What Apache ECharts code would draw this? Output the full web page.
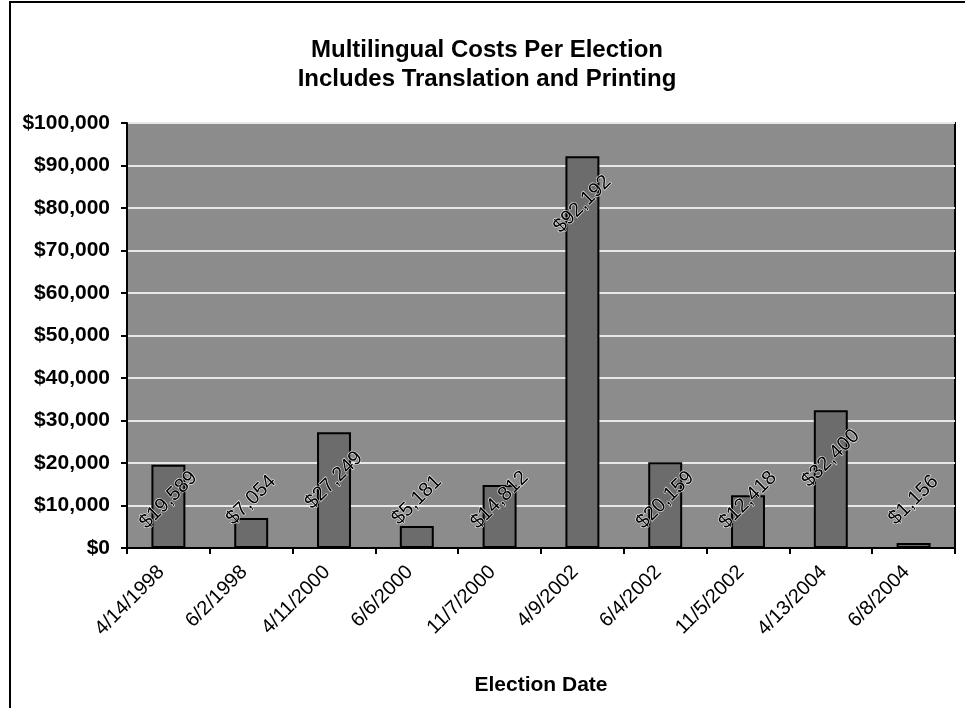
<!DOCTYPE html>
<html>
<head>
<meta charset="utf-8">
<script src="https://cdn.jsdelivr.net/npm/echarts@6/dist/echarts.min.js"></script>
<style>
html,body{margin:0;padding:0;background:#fff;}
#chart{width:965px;height:708px;}
</style>
</head>
<body>
<div id="chart"></div>
<script>
// ---- data ----
var categories = ['4/14/1998','6/2/1998','4/11/2000','6/6/2000','11/7/2000','4/9/2002','6/4/2002','11/5/2002','4/13/2004','6/8/2004'];
var costs = [19589, 7054, 27249, 5181, 14812, 92192, 20159, 12418, 32400, 1156];
var yTicks = [0, 10000, 20000, 30000, 40000, 50000, 60000, 70000, 80000, 90000, 100000];
var titleLines = ['Multilingual Costs Per Election', 'Includes Translation and Printing'];
var xAxisName = 'Election Date';

var FONT = '"Liberation Sans", Arial, sans-serif';
function money(v){ return '$' + v.toLocaleString('en-US'); }

// labels sit near the bar end for tall bars, near the base for short ones
var LABEL_SWITCH = 22600;
var barData = costs.map(function(v){
  var tall = v > LABEL_SWITCH;
  return {
    value: v,
    label: { position: tall ? 'insideTop' : 'insideBottom', distance: 48 }
  };
});

var chart = echarts.init(document.getElementById('chart'), null, {renderer:'canvas'});
chart.setOption({
  animation: false,
  backgroundColor: '#ffffff',
  textStyle: { fontFamily: FONT },
  title: {
    text: titleLines.join('\n'),
    left: 482, textAlign: 'center', top: 31,
    textStyle: { fontFamily: FONT, fontSize: 24, fontWeight: 'bold', color: '#000', lineHeight: 29 }
  },
  graphic: [{
    type: 'rect', silent: true, z: -1,
    shape: { x: 10, y: 2, width: 1000, height: 800 },
    style: { fill: null, stroke: '#000', lineWidth: 2 }
  }],
  grid: {
    left: 127, right: 10, top: 123, bottom: 160,
    show: true, backgroundColor: '#8c8c8c', borderColor: '#000', borderWidth: 2
  },
  xAxis: {
    type: 'category',
    data: categories,
    name: xAxisName, nameLocation: 'middle', nameGap: 127,
    nameTextStyle: { fontFamily: FONT, fontSize: 21, fontWeight: 'bold', color: '#000' },
    axisLine: { lineStyle: { color: '#000', width: 2 } },
    axisTick: { show: true, alignWithLabel: false, length: 6, lineStyle: { color: '#000', width: 2 } },
    axisLabel: { rotate: 45, margin: 14, padding: [0, 10, 0, 0], fontFamily: FONT, fontSize: 20, color: '#000', interval: 0 },
    splitLine: { show: false }
  },
  yAxis: {
    type: 'value',
    min: yTicks[0], max: yTicks[yTicks.length-1], interval: yTicks[1]-yTicks[0],
    axisLine: { show: true, lineStyle: { color: '#000', width: 2 } },
    axisTick: { show: true, length: 6, lineStyle: { color: '#000', width: 2 } },
    axisLabel: { margin: 17, fontFamily: FONT, fontSize: 21, fontWeight: 'bold', color: '#000', formatter: function(v){ return money(v); } },
    splitLine: { show: true, lineStyle: { color: '#e8e8e8', width: 2 } }
  },
  series: [{
    type: 'bar',
    data: barData,
    barWidth: '41%',
    itemStyle: { color: '#6c6c6c', borderColor: '#000', borderWidth: 2 },
    label: {
      show: true, rotate: 45, align: 'center', verticalAlign: 'middle',
      fontFamily: FONT, fontSize: 20, color: '#000',
      textBorderColor: 'rgba(255,255,255,0.85)', textBorderWidth: 1.2,
      formatter: function(p){ return money(p.value); }
    }
  }]
});
</script>
</body>
</html>
